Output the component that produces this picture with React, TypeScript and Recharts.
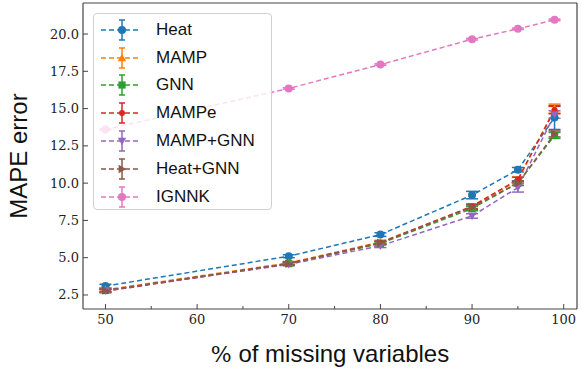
import React from "react";
import { LineChart, Line, XAxis, YAxis, ErrorBar } from "recharts";

// % of missing variables
const pcts = [50, 70, 80, 90, 95, 99];

// MAPE error per method
const heat = [3.1, 5.1, 6.55, 9.2, 10.9, 14.4];
const heatErr = [0.12, 0.1, 0.12, 0.25, 0.15, 0.8];
const mamp = [2.85, 4.65, 6.05, 8.4, 10.2, 15.0];
const mampErr = [0.12, 0.1, 0.12, 0.15, 0.2, 0.3];
const gnn = [2.8, 4.6, 5.95, 8.3, 10.0, 13.2];
const gnnErr = [0.1, 0.1, 0.1, 0.15, 0.15, 0.2];
const mampe = [2.75, 4.6, 6.0, 8.45, 10.25, 14.9];
const mampeErr = [0.1, 0.1, 0.1, 0.15, 0.15, 0.25];
const mampGnn = [2.8, 4.55, 5.8, 7.8, 9.7, 14.6];
const mampGnnErr = [0.1, 0.1, 0.12, 0.15, 0.3, 0.25];
const heatGnn = [2.8, 4.6, 6.0, 8.4, 10.0, 13.3];
const heatGnnErr = [0.1, 0.1, 0.1, 0.15, 0.15, 0.2];
const ignnk = [13.6, 16.35, 17.95, 19.65, 20.35, 20.95];
const ignnkErr = [0.05, 0.05, 0.05, 0.05, 0.05, 0.05];

const xTicks = [50, 55, 60, 65, 70, 75, 80, 85, 90, 95, 100];
const yTicks = [2.5, 5, 7.5, 10, 12.5, 15, 17.5, 20];

type Shape = "circle" | "triUp" | "square" | "dot" | "triDown" | "triRight";

const series: { key: string; name: string; color: string; shape: Shape; values: number[]; errors: number[] }[] = [
  { key: "heat", name: "Heat", color: "#1f77b4", shape: "circle", values: heat, errors: heatErr },
  { key: "mamp", name: "MAMP", color: "#ff7f0e", shape: "triUp", values: mamp, errors: mampErr },
  { key: "gnn", name: "GNN", color: "#2ca02c", shape: "square", values: gnn, errors: gnnErr },
  { key: "mampe", name: "MAMPe", color: "#d62728", shape: "dot", values: mampe, errors: mampeErr },
  { key: "mampGnn", name: "MAMP+GNN", color: "#9467bd", shape: "triDown", values: mampGnn, errors: mampGnnErr },
  { key: "heatGnn", name: "Heat+GNN", color: "#8c564b", shape: "triRight", values: heatGnn, errors: heatGnnErr },
  { key: "ignnk", name: "IGNNK", color: "#e377c2", shape: "circle", values: ignnk, errors: ignnkErr },
];

const rows = pcts.map((p, i) => {
  const r: any = { pct: p };
  series.forEach((s) => {
    r[s.key] = s.values[i];
    r[s.key + "Err"] = s.errors[i];
  });
  return r;
});

const SANS = "'Liberation Sans', Arial, sans-serif";
const SERIF = "'DejaVu Serif', serif";
const AXIS = "#444";

function Marker({ cx, cy, shape, color }: { cx: number; cy: number; shape: Shape; color: string }) {
  const s = 4.2;
  switch (shape) {
    case "circle":
      return <circle cx={cx} cy={cy} r={4} fill={color} />;
    case "dot":
      return <circle cx={cx} cy={cy} r={3} fill={color} />;
    case "square":
      return <rect x={cx - 3.6} y={cy - 3.6} width={7.2} height={7.2} fill={color} />;
    case "triUp":
      return <polygon points={`${cx},${cy - s} ${cx - s},${cy + s * 0.8} ${cx + s},${cy + s * 0.8}`} fill={color} />;
    case "triDown":
      return <polygon points={`${cx},${cy + s} ${cx - s},${cy - s * 0.8} ${cx + s},${cy - s * 0.8}`} fill={color} />;
    case "triRight":
      return <polygon points={`${cx + s},${cy} ${cx - s * 0.8},${cy - s} ${cx - s * 0.8},${cy + s}`} fill={color} />;
  }
  return null;
}

const XTick = ({ x, y, payload }: any) => {
  const major = payload.value % 10 === 0;
  return (
    <g>
      <line x1={x} x2={x} y1={y} y2={y - (major ? 5 : 3)} stroke={AXIS} strokeWidth={1} />
      {major && (
        <text x={x} y={y + 15} textAnchor="middle" fontFamily={SERIF} fontSize={13} fill="#222">
          {payload.value}
        </text>
      )}
    </g>
  );
};

const YTick = ({ x, y, payload }: any) => (
  <g>
    <line x1={x} x2={x + 5} y1={y} y2={y} stroke={AXIS} strokeWidth={1} />
    <text x={x - 4} y={y + 4.5} textAnchor="end" fontFamily={SERIF} fontSize={13} fill="#222">
      {payload.value.toFixed(1)}
    </text>
  </g>
);

const XLabel = ({ viewBox }: any) => (
  <text x={viewBox.x + viewBox.width / 2} y={viewBox.y + 53} textAnchor="middle" fontFamily={SANS} fontSize={24} fill="#111">
    <tspan fontFamily={SERIF} fontSize={22}>%</tspan> of missing variables
  </text>
);

const YLabel = ({ viewBox }: any) => {
  const cx = viewBox.x - 55;
  const cy = viewBox.y + viewBox.height / 2;
  return (
    <text x={cx} y={cy} textAnchor="middle" fontFamily={SANS} fontSize={24} fill="#111" transform={`rotate(-90, ${cx}, ${cy})`}>
      MAPE error
    </text>
  );
};

function LegendBox() {
  return (
    <div
      style={{
        position: "absolute",
        left: 93,
        top: 13,
        width: 179,
        height: 197,
        border: "1px solid #d0d0d0",
        borderRadius: 4,
        background: "rgba(255,255,255,0.8)",
        boxSizing: "border-box",
        paddingTop: 2,
      }}
    >
      {series.map((s) => (
        <div key={s.key} style={{ display: "flex", alignItems: "center", height: 27.8 }}>
          <svg width={62} height={26} style={{ display: "block" }}>
            <line x1={7} x2={47} y1={13} y2={13} stroke={s.color} strokeWidth={1.5} strokeDasharray="5 3" />
            <line x1={28} x2={28} y1={3} y2={23} stroke={s.color} strokeWidth={1.5} />
            <line x1={25} x2={31} y1={3} y2={3} stroke={s.color} strokeWidth={1.5} />
            <line x1={25} x2={31} y1={23} y2={23} stroke={s.color} strokeWidth={1.5} />
            <Marker cx={28} cy={13} shape={s.shape} color={s.color} />
          </svg>
          <span style={{ fontFamily: SANS, fontSize: 17, color: "#111", lineHeight: "20px" }}>{s.name}</span>
        </div>
      ))}
    </div>
  );
}

export default function App() {
  return (
    <div style={{ position: "absolute", left: 0, top: 0, width: 588, height: 369, background: "#fff" }}>
      <LineChart width={588} height={369} data={rows} margin={{ top: 2, right: 10, left: 82, bottom: 59 }}>
        <XAxis
          dataKey="pct"
          type="number"
          domain={[47.55, 101.45]}
          ticks={xTicks}
          interval={0}
          allowDataOverflow
          height={1}
          tickSize={0}
          tickMargin={0}
          tickLine={false}
          tick={<XTick />}
          axisLine={{ stroke: AXIS, strokeWidth: 1.2 }}
          label={<XLabel />}
        />
        <XAxis xAxisId="top" dataKey="pct" type="number" orientation="top" domain={[47.55, 101.45]} height={1} tick={false} tickLine={false} axisLine={{ stroke: AXIS, strokeWidth: 1.2 }} />
        <YAxis
          type="number"
          domain={[1.56, 22.08]}
          ticks={yTicks}
          interval={0}
          allowDataOverflow
          width={1}
          tickSize={0}
          tickMargin={0}
          tickLine={false}
          tick={<YTick />}
          axisLine={{ stroke: AXIS, strokeWidth: 1.2 }}
          label={<YLabel />}
        />
        <YAxis yAxisId="right" orientation="right" domain={[1.56, 22.08]} width={1} tick={false} tickLine={false} axisLine={{ stroke: AXIS, strokeWidth: 1.2 }} />
        {series.map((s) => (
          <Line
            key={s.key}
            dataKey={s.key}
            name={s.name}
            type="linear"
            stroke={s.color}
            strokeWidth={1.5}
            strokeDasharray="5 3"
            isAnimationActive={false}
            dot={(p: any) => <Marker key={`${s.key}-${p.index}`} cx={p.cx} cy={p.cy} shape={s.shape} color={s.color} />}
            activeDot={false}
          >
            <ErrorBar dataKey={s.key + "Err"} width={6} strokeWidth={1.5} stroke={s.color} direction="y" isAnimationActive={false} />
          </Line>
        ))}
      </LineChart>
      <LegendBox />
    </div>
  );
}
